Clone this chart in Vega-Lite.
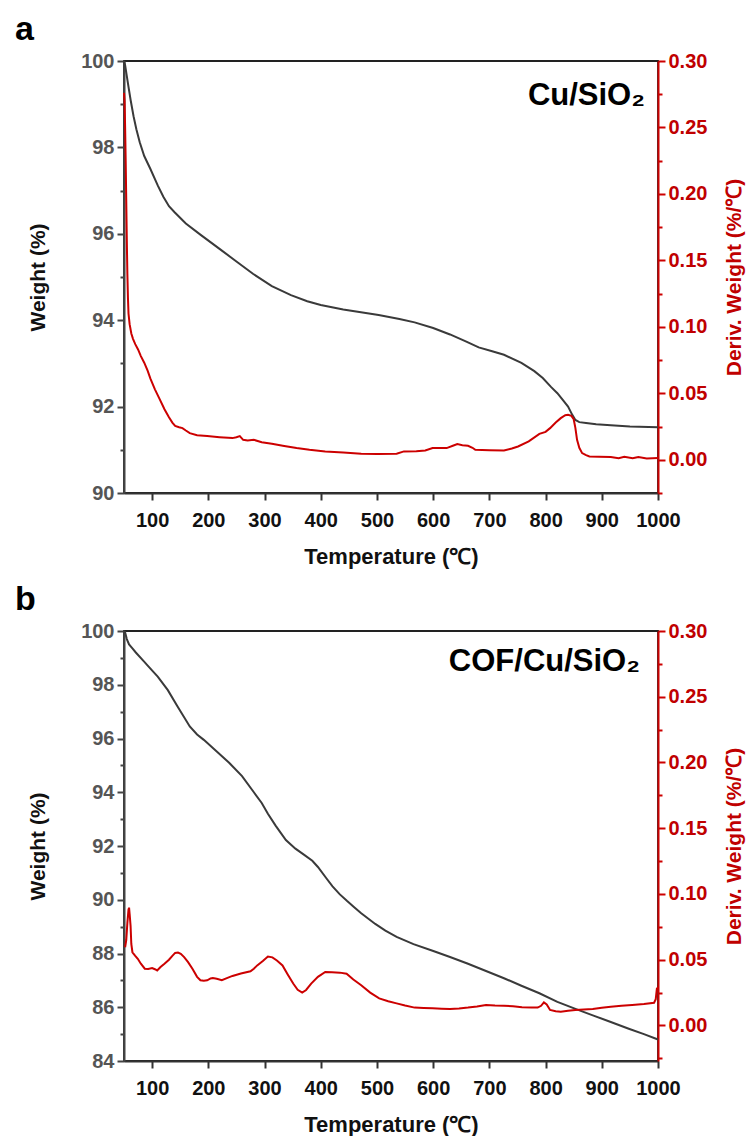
{
  "$schema": "https://vega.github.io/schema/vega-lite/v6.json",
  "padding": {"left": 14, "top": 12, "right": 0, "bottom": 0},
  "background": "white",
  "config": {
    "view": {"stroke": "#222", "strokeWidth": 1.8},
    "font": "Liberation Sans",
    "axis": {"grid": false, "labelFont": "Liberation Sans", "titleFont": "Liberation Sans", "labelFontWeight": "bold", "titleFontWeight": "bold", "labelOverlap": false, "labelFlush": false}
  },
  "datasets": {
    "a_tg": [
      {"T": 50, "W": 100}, {"T": 52, "W": 99.9}, {"T": 55, "W": 99.65}, {"T": 58, "W": 99.4}, {"T": 62, "W": 99.08}, {"T": 67, "W": 98.72}, {"T": 72, "W": 98.42}, {"T": 78, "W": 98.12}, {"T": 86, "W": 97.8}, {"T": 97, "W": 97.5}, {"T": 110, "W": 97.12}, {"T": 120, "W": 96.86}, {"T": 130, "W": 96.64}, {"T": 140, "W": 96.5}, {"T": 160, "W": 96.24}, {"T": 187, "W": 95.97}, {"T": 220, "W": 95.65}, {"T": 250, "W": 95.36}, {"T": 280, "W": 95.07}, {"T": 313, "W": 94.79}, {"T": 347, "W": 94.58}, {"T": 376, "W": 94.44}, {"T": 400, "W": 94.35}, {"T": 440, "W": 94.25}, {"T": 503, "W": 94.12}, {"T": 540, "W": 94.03}, {"T": 567, "W": 93.95}, {"T": 600, "W": 93.82}, {"T": 630, "W": 93.67}, {"T": 660, "W": 93.5}, {"T": 681, "W": 93.37}, {"T": 705, "W": 93.28}, {"T": 726, "W": 93.2}, {"T": 757, "W": 93.01}, {"T": 780, "W": 92.82}, {"T": 795, "W": 92.66}, {"T": 810, "W": 92.45}, {"T": 821, "W": 92.31}, {"T": 832, "W": 92.13}, {"T": 840, "W": 92.0}, {"T": 847, "W": 91.82}, {"T": 853, "W": 91.69}, {"T": 860, "W": 91.64}, {"T": 872, "W": 91.62}, {"T": 890, "W": 91.59}, {"T": 916, "W": 91.57}, {"T": 950, "W": 91.54}, {"T": 1000, "W": 91.52}
    ],
    "a_dtg": [
      {"T": 50, "D": 0.276}, {"T": 51, "D": 0.27}, {"T": 52, "D": 0.25}, {"T": 53, "D": 0.225}, {"T": 54, "D": 0.195}, {"T": 55, "D": 0.165}, {"T": 56, "D": 0.14}, {"T": 57, "D": 0.122}, {"T": 58, "D": 0.11}, {"T": 60, "D": 0.102}, {"T": 63, "D": 0.095}, {"T": 66, "D": 0.091}, {"T": 70, "D": 0.087}, {"T": 75, "D": 0.083}, {"T": 80, "D": 0.078}, {"T": 86, "D": 0.073}, {"T": 92, "D": 0.067}, {"T": 97, "D": 0.061}, {"T": 105, "D": 0.053}, {"T": 113, "D": 0.046}, {"T": 122, "D": 0.038}, {"T": 130, "D": 0.032}, {"T": 136, "D": 0.028}, {"T": 141, "D": 0.0255}, {"T": 148, "D": 0.0245}, {"T": 154, "D": 0.0238}, {"T": 160, "D": 0.022}, {"T": 167, "D": 0.02}, {"T": 180, "D": 0.0185}, {"T": 198, "D": 0.0178}, {"T": 220, "D": 0.017}, {"T": 243, "D": 0.0163}, {"T": 250, "D": 0.017}, {"T": 256, "D": 0.0178}, {"T": 262, "D": 0.015}, {"T": 270, "D": 0.0145}, {"T": 281, "D": 0.015}, {"T": 295, "D": 0.0132}, {"T": 313, "D": 0.012}, {"T": 335, "D": 0.0103}, {"T": 357, "D": 0.0088}, {"T": 380, "D": 0.0075}, {"T": 408, "D": 0.0063}, {"T": 440, "D": 0.0055}, {"T": 472, "D": 0.0045}, {"T": 500, "D": 0.0043}, {"T": 535, "D": 0.0045}, {"T": 548, "D": 0.0063}, {"T": 570, "D": 0.0065}, {"T": 586, "D": 0.007}, {"T": 599, "D": 0.0088}, {"T": 624, "D": 0.0088}, {"T": 635, "D": 0.0105}, {"T": 643, "D": 0.0118}, {"T": 652, "D": 0.011}, {"T": 662, "D": 0.0105}, {"T": 670, "D": 0.009}, {"T": 675, "D": 0.0075}, {"T": 700, "D": 0.0072}, {"T": 726, "D": 0.007}, {"T": 740, "D": 0.0085}, {"T": 751, "D": 0.01}, {"T": 770, "D": 0.0138}, {"T": 789, "D": 0.0195}, {"T": 800, "D": 0.021}, {"T": 808, "D": 0.0238}, {"T": 818, "D": 0.028}, {"T": 827, "D": 0.0313}, {"T": 835, "D": 0.0335}, {"T": 840, "D": 0.0338}, {"T": 846, "D": 0.033}, {"T": 850, "D": 0.0305}, {"T": 853, "D": 0.024}, {"T": 856, "D": 0.015}, {"T": 860, "D": 0.009}, {"T": 865, "D": 0.005}, {"T": 872, "D": 0.0035}, {"T": 878, "D": 0.0025}, {"T": 895, "D": 0.0022}, {"T": 916, "D": 0.002}, {"T": 930, "D": 0.0012}, {"T": 940, "D": 0.0022}, {"T": 955, "D": 0.0012}, {"T": 965, "D": 0.002}, {"T": 980, "D": 0.001}, {"T": 990, "D": 0.0012}, {"T": 1000, "D": 0.0013}
    ],
    "b_tg": [
      {"T": 50, "W": 100}, {"T": 52, "W": 99.95}, {"T": 55, "W": 99.7}, {"T": 59, "W": 99.5}, {"T": 65, "W": 99.35}, {"T": 71, "W": 99.2}, {"T": 85, "W": 98.88}, {"T": 97, "W": 98.6}, {"T": 110, "W": 98.3}, {"T": 128, "W": 97.8}, {"T": 145, "W": 97.2}, {"T": 167, "W": 96.45}, {"T": 180, "W": 96.15}, {"T": 192, "W": 95.95}, {"T": 215, "W": 95.52}, {"T": 237, "W": 95.1}, {"T": 260, "W": 94.6}, {"T": 281, "W": 94.0}, {"T": 295, "W": 93.6}, {"T": 306, "W": 93.2}, {"T": 320, "W": 92.75}, {"T": 338, "W": 92.22}, {"T": 355, "W": 91.9}, {"T": 370, "W": 91.68}, {"T": 385, "W": 91.45}, {"T": 395, "W": 91.22}, {"T": 410, "W": 90.8}, {"T": 421, "W": 90.5}, {"T": 434, "W": 90.2}, {"T": 447, "W": 89.95}, {"T": 459, "W": 89.73}, {"T": 472, "W": 89.5}, {"T": 497, "W": 89.1}, {"T": 515, "W": 88.85}, {"T": 535, "W": 88.62}, {"T": 565, "W": 88.35}, {"T": 599, "W": 88.1}, {"T": 630, "W": 87.87}, {"T": 662, "W": 87.62}, {"T": 694, "W": 87.35}, {"T": 726, "W": 87.08}, {"T": 757, "W": 86.8}, {"T": 789, "W": 86.52}, {"T": 821, "W": 86.2}, {"T": 852, "W": 85.95}, {"T": 884, "W": 85.7}, {"T": 916, "W": 85.45}, {"T": 948, "W": 85.2}, {"T": 975, "W": 85.0}, {"T": 1000, "W": 84.8}
    ],
    "b_dtg": [
      {"T": 52, "D": 0.0595}, {"T": 54, "D": 0.065}, {"T": 56, "D": 0.078}, {"T": 58, "D": 0.088}, {"T": 59, "D": 0.0896}, {"T": 60, "D": 0.085}, {"T": 61.7, "D": 0.0758}, {"T": 63, "D": 0.062}, {"T": 65, "D": 0.0557}, {"T": 70, "D": 0.053}, {"T": 74.5, "D": 0.0507}, {"T": 80, "D": 0.047}, {"T": 87, "D": 0.0432}, {"T": 93, "D": 0.043}, {"T": 100, "D": 0.0437}, {"T": 105, "D": 0.0428}, {"T": 109, "D": 0.0419}, {"T": 115, "D": 0.0445}, {"T": 122, "D": 0.047}, {"T": 130, "D": 0.05}, {"T": 136, "D": 0.053}, {"T": 141, "D": 0.0552}, {"T": 146, "D": 0.0555}, {"T": 151, "D": 0.0545}, {"T": 157, "D": 0.052}, {"T": 164, "D": 0.0482}, {"T": 172, "D": 0.043}, {"T": 180, "D": 0.037}, {"T": 186, "D": 0.0344}, {"T": 192, "D": 0.034}, {"T": 198, "D": 0.0344}, {"T": 204, "D": 0.0358}, {"T": 208, "D": 0.0361}, {"T": 215, "D": 0.0355}, {"T": 224, "D": 0.0344}, {"T": 233, "D": 0.036}, {"T": 243, "D": 0.0377}, {"T": 258, "D": 0.0395}, {"T": 275, "D": 0.0412}, {"T": 281, "D": 0.0432}, {"T": 287, "D": 0.0457}, {"T": 297, "D": 0.049}, {"T": 306, "D": 0.0525}, {"T": 314, "D": 0.0518}, {"T": 322, "D": 0.0494}, {"T": 332, "D": 0.0457}, {"T": 341, "D": 0.039}, {"T": 351, "D": 0.0319}, {"T": 359, "D": 0.0272}, {"T": 367, "D": 0.0251}, {"T": 374, "D": 0.027}, {"T": 383, "D": 0.0319}, {"T": 395, "D": 0.037}, {"T": 408, "D": 0.0407}, {"T": 420, "D": 0.0405}, {"T": 434, "D": 0.0402}, {"T": 446, "D": 0.0394}, {"T": 458, "D": 0.035}, {"T": 472, "D": 0.0306}, {"T": 488, "D": 0.025}, {"T": 504, "D": 0.0206}, {"T": 520, "D": 0.0185}, {"T": 535, "D": 0.0168}, {"T": 550, "D": 0.0152}, {"T": 567, "D": 0.0136}, {"T": 583, "D": 0.0133}, {"T": 599, "D": 0.0131}, {"T": 615, "D": 0.0128}, {"T": 630, "D": 0.0126}, {"T": 646, "D": 0.013}, {"T": 662, "D": 0.0136}, {"T": 678, "D": 0.0145}, {"T": 694, "D": 0.0156}, {"T": 710, "D": 0.0152}, {"T": 726, "D": 0.0151}, {"T": 742, "D": 0.0146}, {"T": 758, "D": 0.0138}, {"T": 775, "D": 0.0136}, {"T": 786, "D": 0.0136}, {"T": 792, "D": 0.015}, {"T": 797, "D": 0.0176}, {"T": 802, "D": 0.016}, {"T": 808, "D": 0.0118}, {"T": 818, "D": 0.0108}, {"T": 827, "D": 0.0105}, {"T": 840, "D": 0.0112}, {"T": 853, "D": 0.0118}, {"T": 868, "D": 0.0122}, {"T": 884, "D": 0.0126}, {"T": 900, "D": 0.0135}, {"T": 916, "D": 0.0143}, {"T": 935, "D": 0.015}, {"T": 954, "D": 0.0156}, {"T": 975, "D": 0.0164}, {"T": 993, "D": 0.0173}, {"T": 996, "D": 0.02}, {"T": 998, "D": 0.028}, {"T": 1000, "D": 0.029}
    ]
  },
  "spacing": 14,
  "vconcat": [
    {
      "title": {"text": "a", "anchor": "start", "frame": "group", "dx": -109, "fontSize": 34, "fontWeight": "bold", "font": "Liberation Sans", "color": "#000", "offset": 4},
      "width": 534,
      "height": 432,
      "layer": [
        {
          "data": {"name": "a_tg"},
          "encoding": {
            "x": {"field": "T", "type": "quantitative", "scale": {"domain": [50, 1000], "nice": false, "zero": false},
              "axis": {"values": [100, 200, 300, 400, 500, 600, 700, 800, 900, 1000], "format": "d", "title": "Temperature (℃)", "labelFontSize": 20, "labelColor": "#111", "titleFontSize": 22, "titleColor": "#111", "domainColor": "#333", "domainWidth": 2, "tickColor": "#333", "tickWidth": 2, "tickSize": 7, "labelPadding": 10, "titlePadding": 16}},
            "y": {"field": "W", "type": "quantitative", "scale": {"domain": [90, 100], "nice": false, "zero": false},
              "axis": {"orient": "left", "values": [90, 91, 92, 93, 94, 95, 96, 97, 98, 99, 100], "labelExpr": "datum.value % 2 === 0 ? datum.label : ''", "title": "Weight (%)", "labelFontSize": 20, "labelColor": "#555", "titleFontSize": 21, "titleColor": "#111", "domainColor": "#444", "domainWidth": 2, "tickColor": "#444", "tickWidth": 2, "tickSize": {"condition": {"test": "datum.value % 2 === 0", "value": 7}, "value": 4}, "labelPadding": 3, "titlePadding": 32}}
          },
          "layer": [
            {
              "mark": {"type": "line", "color": "#3a3a3a", "strokeWidth": 2}
            },
            {
              "mark": {"type": "text", "align": "right", "baseline": "middle", "dx": -13, "dy": 35, "fontSize": 31, "fontWeight": "bold", "font": "Liberation Sans", "fill": "#000"},
              "encoding": {
                "x": {"aggregate": "max", "field": "T", "type": "quantitative"},
                "y": {"aggregate": "max", "field": "W", "type": "quantitative"},
                "text": {"value": "Cu/SiO₂"}
              }
            }
          ]
        },
        {
          "data": {"name": "a_dtg"},
          "mark": {"type": "line", "color": "#cc0000", "strokeWidth": 2},
          "encoding": {
            "x": {"field": "T", "type": "quantitative", "scale": {"domain": [50, 1000], "nice": false, "zero": false},
              "axis": {"values": [100, 200, 300, 400, 500, 600, 700, 800, 900, 1000], "format": "d", "title": "Temperature (℃)", "labelFontSize": 20, "labelColor": "#111", "titleFontSize": 22, "titleColor": "#111", "domainColor": "#333", "domainWidth": 2, "tickColor": "#333", "tickWidth": 2, "tickSize": 7, "labelPadding": 10, "titlePadding": 16}},
            "y": {"field": "D", "type": "quantitative", "scale": {"domain": [-0.025, 0.3], "nice": false, "zero": false},
              "axis": {"orient": "right", "values": [-0.025, 0, 0.025, 0.05, 0.075, 0.1, 0.125, 0.15, 0.175, 0.2, 0.225, 0.25, 0.275, 0.3], "labelExpr": "abs(round(datum.value * 40)) % 2 === 0 ? format(datum.value, '.2f') : ''", "title": "Deriv. Weight (%/℃)", "titleAngle": 270, "titleBaseline": "top", "labelFontSize": 20, "labelColor": "#c00000", "titleFontSize": 21, "titleColor": "#c00000", "domainColor": "#cc0000", "domainWidth": 2, "tickColor": "#cc0000", "tickWidth": 2, "tickSize": {"condition": {"test": "abs(round(datum.value * 40)) % 2 === 0", "value": 7}, "value": 4}, "labelPadding": 3, "titlePadding": 17}}
          }
        }
      ],
      "resolve": {"scale": {"y": "independent"}}
    },
    {
      "title": {"text": "b", "anchor": "start", "frame": "group", "dx": -109, "fontSize": 34, "fontWeight": "bold", "font": "Liberation Sans", "color": "#000", "offset": 4},
      "width": 534,
      "height": 430,
      "layer": [
        {
          "data": {"name": "b_tg"},
          "encoding": {
            "x": {"field": "T", "type": "quantitative", "scale": {"domain": [50, 1000], "nice": false, "zero": false},
              "axis": {"values": [100, 200, 300, 400, 500, 600, 700, 800, 900, 1000], "format": "d", "title": "Temperature (℃)", "labelFontSize": 20, "labelColor": "#111", "titleFontSize": 22, "titleColor": "#111", "domainColor": "#333", "domainWidth": 2, "tickColor": "#333", "tickWidth": 2, "tickSize": 7, "labelPadding": 10, "titlePadding": 16}},
            "y": {"field": "W", "type": "quantitative", "scale": {"domain": [84, 100], "nice": false, "zero": false},
              "axis": {"orient": "left", "values": [84, 85, 86, 87, 88, 89, 90, 91, 92, 93, 94, 95, 96, 97, 98, 99, 100], "labelExpr": "datum.value % 2 === 0 ? datum.label : ''", "title": "Weight (%)", "labelFontSize": 20, "labelColor": "#555", "titleFontSize": 21, "titleColor": "#111", "domainColor": "#444", "domainWidth": 2, "tickColor": "#444", "tickWidth": 2, "tickSize": {"condition": {"test": "datum.value % 2 === 0", "value": 7}, "value": 4}, "labelPadding": 3, "titlePadding": 32}}
          },
          "layer": [
            {
              "mark": {"type": "line", "color": "#3a3a3a", "strokeWidth": 2}
            },
            {
              "mark": {"type": "text", "align": "right", "baseline": "middle", "dx": -18, "dy": 31, "fontSize": 31, "fontWeight": "bold", "font": "Liberation Sans", "fill": "#000"},
              "encoding": {
                "x": {"aggregate": "max", "field": "T", "type": "quantitative"},
                "y": {"aggregate": "max", "field": "W", "type": "quantitative"},
                "text": {"value": "COF/Cu/SiO₂"}
              }
            }
          ]
        },
        {
          "data": {"name": "b_dtg"},
          "mark": {"type": "line", "color": "#cc0000", "strokeWidth": 2},
          "encoding": {
            "x": {"field": "T", "type": "quantitative", "scale": {"domain": [50, 1000], "nice": false, "zero": false},
              "axis": {"values": [100, 200, 300, 400, 500, 600, 700, 800, 900, 1000], "format": "d", "title": "Temperature (℃)", "labelFontSize": 20, "labelColor": "#111", "titleFontSize": 22, "titleColor": "#111", "domainColor": "#333", "domainWidth": 2, "tickColor": "#333", "tickWidth": 2, "tickSize": 7, "labelPadding": 10, "titlePadding": 16}},
            "y": {"field": "D", "type": "quantitative", "scale": {"domain": [-0.027, 0.3], "nice": false, "zero": false},
              "axis": {"orient": "right", "values": [-0.025, 0, 0.025, 0.05, 0.075, 0.1, 0.125, 0.15, 0.175, 0.2, 0.225, 0.25, 0.275, 0.3], "labelExpr": "abs(round(datum.value * 40)) % 2 === 0 ? format(datum.value, '.2f') : ''", "title": "Deriv. Weight (%/℃)", "titleAngle": 270, "titleBaseline": "top", "labelFontSize": 20, "labelColor": "#c00000", "titleFontSize": 21, "titleColor": "#c00000", "domainColor": "#cc0000", "domainWidth": 2, "tickColor": "#cc0000", "tickWidth": 2, "tickSize": {"condition": {"test": "abs(round(datum.value * 40)) % 2 === 0", "value": 7}, "value": 4}, "labelPadding": 3, "titlePadding": 17}}
          }
        }
      ],
      "resolve": {"scale": {"y": "independent"}}
    }
  ]
}
